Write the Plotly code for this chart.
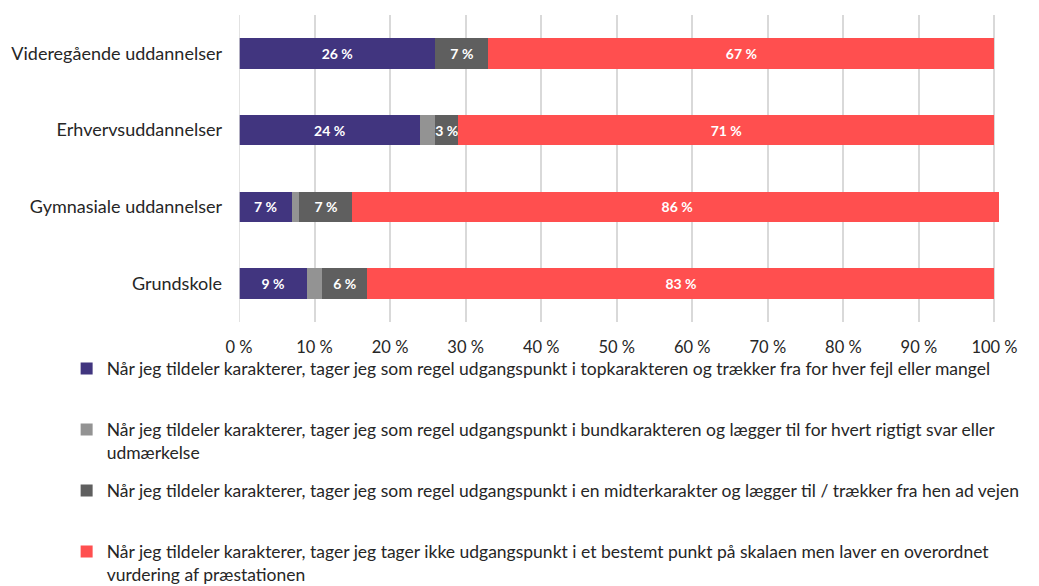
import plotly.graph_objects as go

categories = ["Videregående uddannelser", "Erhvervsuddannelser", "Gymnasiale uddannelser", "Grundskole"]
series_names = [
    "Når jeg tildeler karakterer, tager jeg som regel udgangspunkt i topkarakteren og trækker fra for hver fejl eller mangel",
    "Når jeg tildeler karakterer, tager jeg som regel udgangspunkt i bundkarakteren og lægger til for hvert rigtigt svar eller<br>udmærkelse",
    "Når jeg tildeler karakterer, tager jeg som regel udgangspunkt i en midterkarakter og lægger til / trækker fra hen ad vejen",
    "Når jeg tildeler karakterer, tager jeg tager ikke udgangspunkt i et bestemt punkt på skalaen men laver en overordnet<br>vurdering af præstationen",
]
top_vals = [26, 24, 7, 9]
bottom_vals = [0, 2, 1, 2]
middle_vals = [7, 3, 7, 6]
overall_vals = [67, 71, 86, 83]
tick_vals = [0, 10, 20, 30, 40, 50, 60, 70, 80, 90, 100]
tick_text = [f"{v} %" for v in tick_vals]

colors = ["#41357f", "#939393", "#5f5f5f", "#ff4f4f"]
series_vals = [top_vals, bottom_vals, middle_vals, overall_vals]
show_labels = [True, False, True, True]

FONT = "Lato"
fig = go.Figure()
for i, (name, vals, col, lab) in enumerate(zip(series_names, series_vals, colors, show_labels)):
    legend_name = name if "<br>" in name else name + "<br>&nbsp;"
    fig.add_trace(go.Bar(
        y=categories, x=vals, orientation="h", name=legend_name,
        marker=dict(color=col, line=dict(width=0)),
        text=[f"{v} %" if (lab and v > 0) else "" for v in vals],
        textposition="inside", insidetextanchor="middle", textangle=0,
        constraintext="none",
        textfont=dict(color="white", size=14, family=FONT, weight="bold"),
        legendgroup=f"g{i}",
        hoverinfo="skip",
    ))

fig.update_layout(
    barmode="stack",
    bargap=0.6,
    width=1039, height=586,
    margin=dict(l=239, r=40, t=15, b=264, autoexpand=False),
    plot_bgcolor="white", paper_bgcolor="white",
    font=dict(family=FONT, size=16, color="#262626"),
    xaxis=dict(range=[0, 100.6], tickvals=tick_vals, ticktext=tick_text,
               showgrid=True, gridcolor="#d9d9d9", gridwidth=1.5, zeroline=False,
               showline=False, tickfont=dict(size=16.5), ticks="", ticklabelstandoff=13),
    yaxis=dict(autorange="reversed", ticks="", showline=False, ticklabelstandoff=16,
               tickfont=dict(size=18)),
    legend=dict(orientation="v", x=-0.2268, xanchor="left", y=-0.093, yanchor="top",
                traceorder="grouped", tracegroupgap=12.5, valign="top",
                bgcolor="rgba(0,0,0,0)",
                font=dict(size=17.5, color="#262626"), itemwidth=30),
    showlegend=True,
)
fig.add_shape(type="line", xref="x", yref="paper", x0=0, x1=0, y0=0, y1=1,
              line=dict(color="#d9d9d9", width=1.5))
fig.write_html("out.html", config={"displayModeBar": False},
               post_script="document.body.style.margin='0';document.body.style.overflow='hidden';")
